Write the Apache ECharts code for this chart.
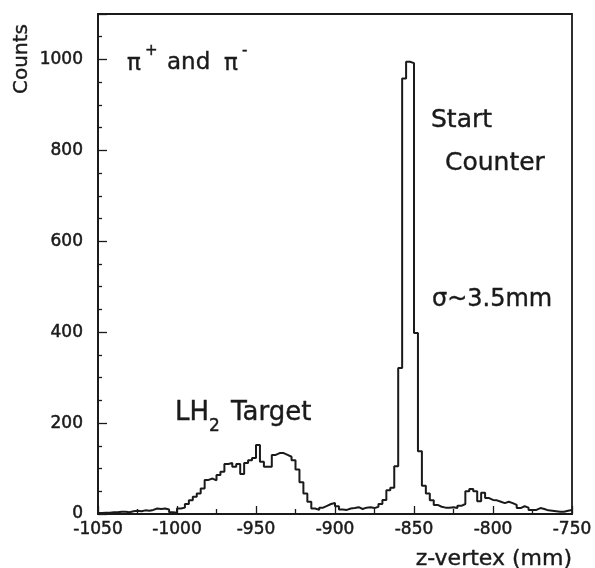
<!DOCTYPE html>
<html>
<head>
<meta charset="utf-8">
<script src="https://cdn.jsdelivr.net/npm/echarts@6/dist/echarts.min.js"></script>
<style>
  html, body { margin: 0; padding: 0; background: #ffffff; }
  #chart { width: 595px; height: 568px; }
</style>
</head>
<body>
<div id="chart"></div>
<script>
// z-vertex histogram: 2.5 mm bins from -1050 mm to -750 mm
const zRange = [-1050, -750];
const binWidth = 2.5;
const counts = [
  2, 3, 3, 4, 4, 5, 5, 4, 6, 7,            // -1050 .. -1027.5
  6, 8, 7, 9, 12, 11, 12, 10, 4, 3,        // -1025 .. -1002.5
  12, 14, 22, 30, 38, 45, 56, 75, 78, 74,  // -1000 .. -977.5
  86, 93, 110, 112, 104, 110, 88, 112, 118, 123, // -975 .. -952.5
  152, 115, 104, 104, 130, 134, 134, 130, 126, 118, // -950 .. -927.5
  98, 70, 45, 27, 12, 9, 14, 18, 22, 24,   // -925 .. -902.5
  17, 10, 9, 12, 13, 15, 11, 14, 15, 13,   // -900 .. -877.5
  16, 22, 31, 52, 58, 105, 321, 958, 995, 992, // -875 .. -852.5
  398, 138, 62, 45, 30, 20, 16, 14, 14, 15, // -850 .. -827.5
  13, 18, 22, 50, 55, 50, 28, 47, 35, 31,  // -825 .. -802.5
  30, 27, 24, 27, 24, 20, 13, 17, 14, 9,   // -800 .. -777.5
  9, 13, 11, 8, 7, 6, 5, 5, 7, 9           // -775 .. -752.5
];
const xTickValues = [-1050, -1000, -950, -900, -850, -800, -750];
const yTickValues = [0, 200, 400, 600, 800, 1000];
const yMax = 1100;

// Step outline: one point per bin left edge, plus the closing right edge
const outline = counts.map((c, i) => [zRange[0] + i * binWidth, c]);
outline.push([zRange[1], counts[counts.length - 1]]);

const ink = '#1a1a1a';
const font = 'DejaVu Sans';

function label(text, x, y, size, opts) {
  opts = opts || {};
  return {
    type: 'text',
    x: x, y: y,
    rotation: opts.rotation || 0,
    style: {
      text: text,
      fill: ink,
      stroke: ink,
      lineWidth: 0.4,
      font: size + 'px "' + font + '"',
      align: opts.align || 'left',
      verticalAlign: 'middle'
    },
    z: 10
  };
}

const axisLabelStyle = {
  color: ink, fontFamily: font, fontSize: 17,
  textBorderColor: ink, textBorderWidth: 0.5
};

const chart = echarts.init(document.getElementById('chart'), null, { renderer: 'canvas' });
chart.setOption({
  animation: false,
  backgroundColor: '#ffffff',
  grid: {
    left: 98, right: 23, top: 14, bottom: 54,
    show: true,
    borderColor: ink,
    borderWidth: 1.8,
    backgroundColor: 'transparent'
  },
  xAxis: {
    type: 'value',
    min: zRange[0], max: zRange[1], interval: 50,
    axisLine: { show: true, lineStyle: { color: ink, width: 1.8 } },
    axisTick: { show: true, inside: true, length: 8, lineStyle: { color: ink, width: 1.3 } },
    minorTick: { show: true, splitNumber: 2, length: 5, lineStyle: { color: ink, width: 1.3 } },
    splitLine: { show: false },
    axisLabel: Object.assign({
      margin: 7,
      formatter: v => (xTickValues.includes(v) ? String(v) : '')
    }, axisLabelStyle)
  },
  yAxis: {
    type: 'value',
    min: 0, max: yMax, interval: 200,
    axisLine: { show: true, lineStyle: { color: ink, width: 1.8 } },
    axisTick: { show: true, inside: true, length: 9, lineStyle: { color: ink, width: 1.3 } },
    minorTick: { show: true, splitNumber: 4, length: 4, lineStyle: { color: ink, width: 1.3 } },
    splitLine: { show: false },
    axisLabel: Object.assign({
      margin: 15,
      formatter: v => (yTickValues.includes(v) ? String(v) : '')
    }, axisLabelStyle)
  },
  series: [{
    type: 'line',
    step: 'end',
    data: outline,
    showSymbol: false,
    symbol: 'none',
    lineStyle: { color: ink, width: 2 },
    clip: true
  }],
  graphic: [
    label('Counts', 22, 59, 20, { rotation: Math.PI / 2, align: 'center' }),
    label('π', 127, 64, 23),
    label('+', 145, 51, 15),
    label('and', 167, 63, 23),
    label('π', 224, 64, 23),
    label('-', 242, 51, 15),
    label('Start', 431, 120, 25),
    label('Counter', 445, 163, 25),
    label('σ~3.5mm', 432, 300, 24),
    label('LH', 175, 413, 26),
    label('2', 209, 427, 17),
    label('Target', 231, 413, 26),
    label('z-vertex (mm)', 572, 559, 22, { align: 'right' })
  ]
});
</script>
</body>
</html>
